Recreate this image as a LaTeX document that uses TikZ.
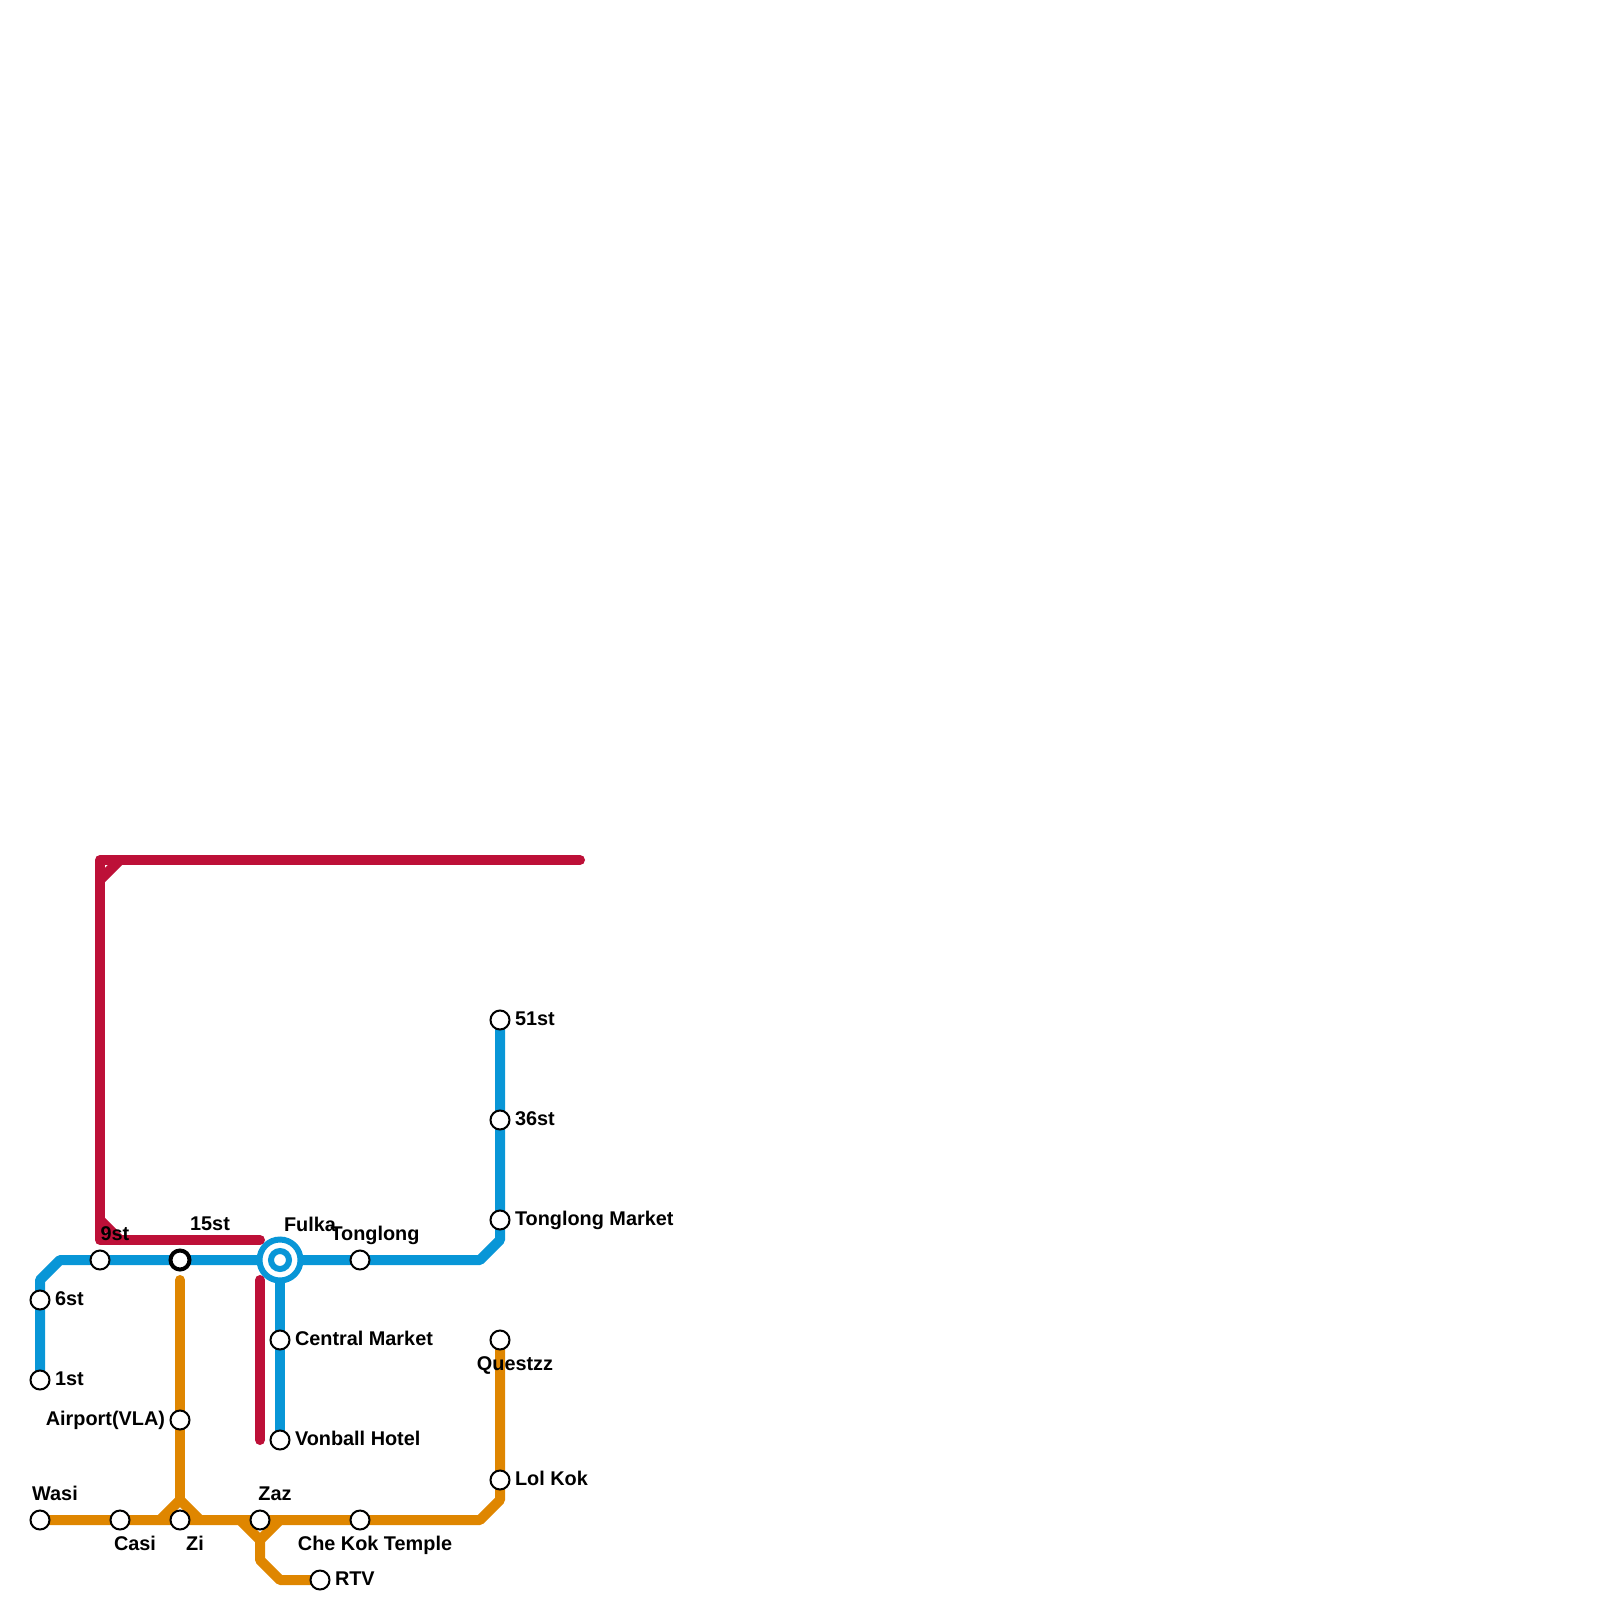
\documentclass[tikz,border=0pt]{standalone}
\usepackage{fontspec}
\setmainfont{Liberation Sans}
\usetikzlibrary{positioning, backgrounds}
\definecolor{lineblue}{HTML}{0896D7}
\definecolor{linered}{HTML}{BD1038}
\definecolor{lineorange}{HTML}{DF8600}
\tikzset{
    station/.style={circle, draw=black, fill=white, line width=0.4mm, minimum size=3.8mm, inner sep=0pt, outer sep=0pt},
    transfer/.style={circle, draw=black, fill=white, line width=0.8mm, minimum size=3.8mm, inner sep=0pt, outer sep=0pt},
    hubouter/.style={circle, draw=lineblue, fill=white, line width=1.2mm, minimum size=8.2mm, inner sep=0pt, outer sep=0pt},
    hubinner/.style={circle, draw=lineblue, fill=white, line width=1.2mm, minimum size=3.6mm, inner sep=0pt, outer sep=0pt},
    stationlabel/.style={font=\fontsize{11.3}{13}\selectfont\bfseries, text height=2.8mm, text depth=0.6mm, inner sep=0pt, outer sep=0pt},
    metroline/.style={line width=2mm, line cap=round, line join=round}
}
\begin{document}
\begin{tikzpicture}[x=0.4cm, y=-0.4cm]
	\useasboundingbox (0,0) rectangle (80,80);

	% --- blue stations ---
	\node[station] (first) at (2,69) {};
	\node[station] (sixth) at (2,65) {};
	\node[station] (ninth) at (5,63) {};
	\node[transfer] (fifteenth) at (9,63) {};
	\node[hubouter] (fulka) at (14,63) {};
	\node[hubinner] (fulkain) at (14,63) {};
	\node[station] (tonglong) at (18,63) {};
	\node[station] (market) at (25,61) {};
	\node[station] (thirtysix) at (25,56) {};
	\node[station] (fiftyone) at (25,51) {};
	\node[station] (central) at (14,67) {};
	\node[station] (vonball) at (14,72) {};

	% --- orange stations ---
	\node[station] (wasi) at (2,76) {};
	\node[station] (casi) at (6,76) {};
	\node[station] (zi) at (9,76) {};
	\node[station] (zaz) at (13,76) {};
	\node[station] (chekok) at (18,76) {};
	\node[station] (rtv) at (16,79) {};
	\node[station] (airport) at (9,71) {};
	\node[station] (lolkok) at (25,74) {};
	\node[station] (questzz) at (25,67) {};

	% --- labels ---
	\node[stationlabel, right=1.1mm of first] (firstlabel) {1st};
	\node[stationlabel, right=1.1mm of sixth] (sixthlabel) {6st};
	\node[stationlabel, above=1.5mm of ninth, xshift=3mm] (ninthlabel) {9st};
	\node[stationlabel, above=3.4mm of fifteenth, xshift=6mm] (fifteenthlabel) {15st};
	\node[stationlabel, above=1.1mm of fulka, xshift=6mm] (fulkalabel) {Fulka};
	\node[stationlabel, above=1.5mm of tonglong, xshift=3mm] (tonglonglabel) {Tonglong};
	\node[stationlabel, right=1.1mm of market] (marketlabel) {Tonglong Market};
	\node[stationlabel, right=1.1mm of thirtysix] (thirtysixlabel) {36st};
	\node[stationlabel, right=1.1mm of fiftyone] (fiftyonelabel) {51st};
	\node[stationlabel, right=1.1mm of central] (centrallabel) {Central Market};
	\node[stationlabel, right=1.1mm of vonball] (vonballlabel) {Vonball Hotel};
	\node[stationlabel, above=1.5mm of wasi, xshift=3mm] (wasilabel) {Wasi};
	\node[stationlabel, below=1.3mm of casi, xshift=3mm] (casilabel) {Casi};
	\node[stationlabel, below=1.3mm of zi, xshift=3mm] (zilabel) {Zi};
	\node[stationlabel, above=1.5mm of zaz, xshift=3mm] (zazlabel) {Zaz};
	\node[stationlabel, below=1.3mm of chekok, xshift=3mm] (chekoklabel) {Che Kok Temple};
	\node[stationlabel, right=1.1mm of rtv] (rtvlabel) {RTV};
	\node[stationlabel, left=1.1mm of airport] (airportlabel) {Airport(VLA)};
	\node[stationlabel, right=1.1mm of lolkok] (lolkoklabel) {Lol Kok};
	\node[stationlabel, below=1.4mm of questzz, xshift=3mm] (questzzlabel) {Questzz};

	% --- free line ends ---
	\coordinate (redend) at (29,43);
	\coordinate (redcorner) at (5,43);
	\coordinate (redfoot) at (5,62);
	\coordinate (redstop) at (13,62);
	\coordinate (redlow) at (13,64);
	\coordinate (redbottom) at (13,72);
	\coordinate (orangetop) at (9,64);

	\begin{scope}[on background layer]
		% Blue
		\draw[metroline, lineblue] (first.center) -- (2,64) -- (3,63) -- (fulka.center) -- (24,63) -- (25,62) -- (fiftyone.center);
		\draw[metroline, lineblue] (fulka.center) -- (vonball.center);

		% Red
		\draw[metroline, linered] (redend) -- (redcorner) -- (redfoot) -- (redstop);
		\draw[metroline, linered] (6,43) -- (5,44);
		\draw[metroline, linered] (5,61) -- (6,62);
		\draw[metroline, linered] (redlow) -- (redbottom);

		% Orange
		\draw[metroline, lineorange] (wasi.center) -- (24,76) -- (25,75) -- (questzz.center);
		\draw[metroline, lineorange] (orangetop) -- (9,75);
		\draw[metroline, lineorange] (8,76) -- (9,75) -- (10,76);
		\draw[metroline, lineorange] (12,76) -- (13,77) -- (14,76);
		\draw[metroline, lineorange] (13,77) -- (13,78) -- (14,79) -- (rtv.center);
	\end{scope}
\end{tikzpicture}
\end{document}
